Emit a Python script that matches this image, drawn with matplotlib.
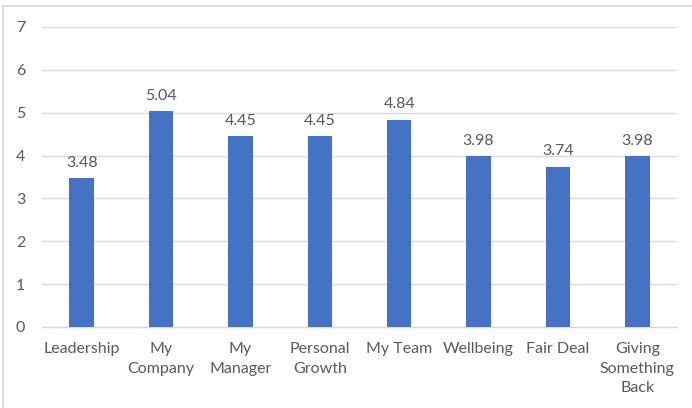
import matplotlib
matplotlib.use("Agg")
import matplotlib.pyplot as plt
from matplotlib.lines import Line2D

categories = ["Leadership", "My\nCompany", "My\nManager", "Personal\nGrowth",
              "My Team", "Wellbeing", "Fair Deal", "Giving\nSomething\nBack"]
values = [3.48, 5.04, 4.45, 4.45, 4.84, 3.98, 3.74, 3.98]
yticks = [0, 1, 2, 3, 4, 5, 6, 7]

plt.rcParams['font.family'] = ['Lato', 'DejaVu Sans']
text_color = '#595959'
fs = 11.5

fig = plt.figure(figsize=(6.92, 4.08), dpi=100)
W, H = 692, 408
ax = fig.add_axes([42 / W, (H - 327) / H, (677 - 42) / W, 300 / H])

x = range(len(categories))
ax.bar(x, values, width=0.31, color='#4472C4', zorder=3)
for xi, v in zip(x, values):
    ax.annotate(f"{v:.2f}", (xi, v), xytext=(0, 6), textcoords='offset points',
                ha='center', va='bottom', fontsize=fs, color=text_color)

ax.set_ylim(0, 7)
ax.set_xlim(-0.5, len(categories) - 0.5)
ax.set_yticks(yticks)
ax.set_yticklabels([str(t) for t in yticks], fontsize=fs, color=text_color)
ax.set_xticks(list(x))
ax.set_xticklabels(categories, fontsize=fs, color=text_color, linespacing=1.5, va='top')
ax.tick_params(axis='both', length=0)
ax.tick_params(axis='y', pad=12)
ax.tick_params(axis='x', pad=11)
ax.grid(axis='y', color='#d9d9d9', linewidth=1, zorder=0)
for s in ['top', 'right', 'left']:
    ax.spines[s].set_visible(False)
ax.spines['bottom'].set_color('#d9d9d9')
ax.spines['bottom'].set_linewidth(1)

# chart border (top and left visible)
fig.add_artist(Line2D([3 / W, 1], [(H - 6) / H, (H - 6) / H], color='#d9d9d9', lw=1.2, transform=fig.transFigure))
fig.add_artist(Line2D([3 / W, 3 / W], [0, (H - 6) / H], color='#d9d9d9', lw=1.2, transform=fig.transFigure))

fig.savefig("out.png", dpi=100)
